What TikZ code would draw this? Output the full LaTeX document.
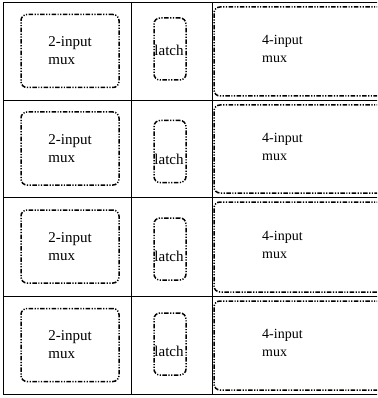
\documentclass[tikz,border=0pt]{standalone}
\usepackage{fontspec}
\setmainfont{Liberation Serif}
\usetikzlibrary{positioning}
\tikzset{
  gridline/.style={draw=black,line width=0.9pt},
  dbox/.style={draw=black,rounded corners=6pt,line width=1.5pt,inner sep=0pt,
    dash pattern=on 4.5pt off 1.5pt on 1.2pt off 1.5pt on 1.2pt off 1.5pt},
  muxtwo/.style={dbox,minimum width=98pt,minimum height=73pt,align=left,font=\fontsize{15}{18}\selectfont},
  latchbox/.style={dbox,minimum width=32pt,minimum height=62pt},
  muxfour/.style={dbox,minimum width=196pt},
  lbl/.style={inner sep=0pt,align=left,font=\fontsize{14}{18}\selectfont},
}
\begin{document}
\begin{tikzpicture}[x=1pt,y=-1pt]
  \useasboundingbox (0,0) rectangle (377,398);
  \clip (0,0) rectangle (377,398);
  % grid of cells
  \draw[gridline] (3,2) rectangle (400,394);
  \foreach \y in {100,197,296} \draw[gridline] (3,\y) -- (400,\y);
  \draw[gridline] (131,2) -- (131,394);
  \draw[gridline] (212,2) -- (212,394);
  % one row of blocks per cell row
  \foreach \i/\t/\b/\ly/\lt in {1/2/100/49/50,2/100/197/151.5/159,3/197/296/249/256,4/296/394/344/351}{
    \node[muxtwo] (mtwo\i) at (70,{(\t+\b)/2}) {2-input\\mux};
    \node[latchbox] (lb\i) at (170,\ly) {};
    \node[lbl,font=\fontsize{15}{18}\selectfont] (lt\i) at (169,\lt) {latch};
    \node[muxfour,minimum height={\b-\t-9}] (mfour\i) at (312,{(\t+\b)/2+0.5}) {};
    \node[lbl,anchor=west] (ft\i) at (262,{(\t+\b)/2-2}) {4-input\\mux};
  }
\end{tikzpicture}
\end{document}
